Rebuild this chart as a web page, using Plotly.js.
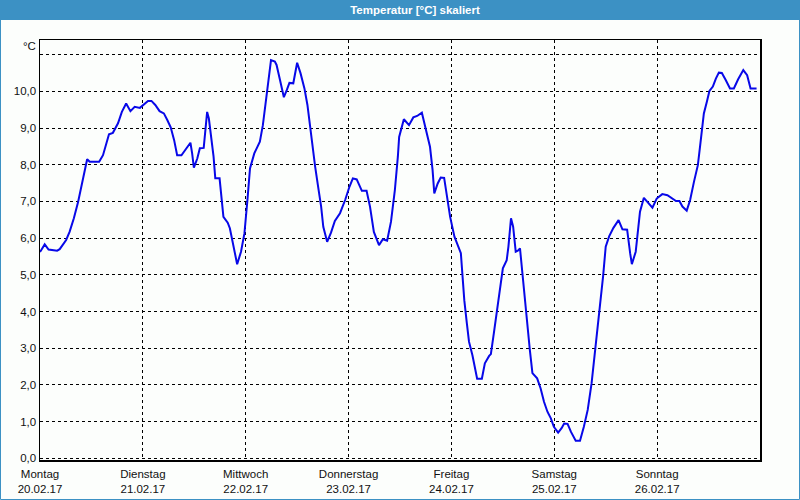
<!DOCTYPE html>
<html>
<head>
<meta charset="utf-8">
<script src="https://cdn.plot.ly/plotly-3.0.1.min.js"></script>
<style>
  html, body { margin: 0; padding: 0; background: #fcfefc; }
  #chart { width: 800px; height: 500px; }
</style>
</head>
<body>
<div id="chart"></div>
<script>
// Hours since Monday 20.02.17 00:00
const hours = [
  0, 1.1, 2.0, 4.0, 4.6, 6.1, 6.9, 7.9, 8.9, 9.8, 10.4, 11.0, 11.6, 13.8, 14.7, 15.5, 16.1, 17.0, 18.2, 19.1,
  20.1, 21.1, 22.1, 23.3, 24.4, 25.2, 26.0, 26.9, 27.9, 28.9, 29.7, 30.5, 31.3, 32.0, 33.0, 34.1, 35.1, 35.5, 35.9, 36.7,
  37.3, 38.2, 39.0, 39.4, 40.0, 40.5, 40.9, 41.9, 42.8, 43.8, 44.3, 45.1, 46.0, 46.9, 47.7, 48.4, 49.0, 50.0, 50.8, 51.3,
  52.0, 52.5, 53.1, 53.9, 54.8, 55.2, 56.0, 56.9, 57.6, 58.2, 59.1, 60.0, 60.8, 61.7, 62.4, 63.0, 63.6, 64.2, 64.9, 65.6,
  66.1, 67.0, 67.9, 68.8, 70.0, 71.2, 72.2, 73.0, 73.9, 75.1, 76.2, 77.0, 77.9, 79.1, 80.0, 81.0, 81.9, 82.8, 83.5, 83.8,
  84.9, 86.1, 87.1, 88.0, 89.1, 90.0, 91.0, 91.6, 92.0, 92.8, 93.5, 94.3, 94.9, 95.7, 96.7, 97.6, 98.2, 98.6, 99.0, 99.6,
  100.1, 100.9, 101.5, 102.0, 103.1, 103.8, 104.8, 105.2, 105.9, 106.6, 107.3, 108.0, 108.9, 109.3, 109.9, 110.4, 111.0, 111.5, 112.0, 112.6,
  113.2, 113.8, 114.3, 114.9, 116.0, 116.8, 117.6, 118.4, 119.2, 119.9, 120.9, 121.7, 122.3, 123.1, 123.9, 125.0, 126.0, 126.9, 127.8, 128.7,
  129.5, 130.3, 130.9, 131.4, 132.0, 132.8, 133.8, 135.0, 135.9, 137.0, 137.7, 138.1, 139.0, 139.4, 140.0, 140.9, 141.9, 142.9, 143.9, 145.2,
  146.4, 147.4, 148.4, 149.2, 149.9, 150.9, 151.7, 152.6, 153.5, 154.0, 154.4, 154.9, 155.6, 156.2, 157.0, 157.7, 158.4, 159.1, 160.0, 161.0,
  161.9, 162.9, 164.1, 165.0, 165.8, 167.2
];
const temps = [
  5.62, 5.83, 5.69, 5.66, 5.70, 5.95, 6.17, 6.54, 6.99, 7.49, 7.90, 8.15, 8.08, 8.08, 8.26, 8.58, 8.83, 8.87, 9.13, 9.44,
  9.67, 9.46, 9.58, 9.55, 9.67, 9.74, 9.74, 9.63, 9.46, 9.40, 9.22, 9.02, 8.67, 8.26, 8.26, 8.45, 8.60, 8.31, 7.92, 8.17,
  8.45, 8.46, 9.44, 9.26, 8.67, 8.22, 7.63, 7.63, 6.58, 6.42, 6.27, 5.77, 5.29, 5.63, 6.13, 7.04, 7.90, 8.31, 8.49, 8.63,
  9.08, 9.58, 10.13, 10.85, 10.81, 10.72, 10.31, 9.84, 10.04, 10.23, 10.22, 10.78, 10.49, 10.08, 9.63, 9.04, 8.49, 7.95, 7.40, 6.86,
  6.31, 5.90, 6.15, 6.47, 6.68, 7.04, 7.40, 7.63, 7.60, 7.29, 7.29, 6.86, 6.17, 5.81, 5.97, 5.93, 6.45, 7.31, 8.22, 8.76,
  9.24, 9.08, 9.29, 9.33, 9.42, 8.99, 8.49, 7.86, 7.22, 7.49, 7.65, 7.64, 7.13, 6.58, 6.04, 5.77, 5.59, 4.95, 4.31, 3.68,
  3.18, 2.81, 2.50, 2.17, 2.17, 2.59, 2.79, 2.84, 3.41, 4.04, 4.59, 5.18, 5.40, 5.77, 6.54, 6.31, 5.63, 5.66, 5.72, 4.95,
  4.31, 3.59, 2.95, 2.32, 2.18, 1.91, 1.54, 1.27, 1.09, 0.86, 0.70, 0.82, 0.95, 0.94, 0.72, 0.48, 0.48, 0.86, 1.32, 2.04,
  2.86, 3.68, 4.31, 4.97, 5.77, 6.05, 6.28, 6.49, 6.24, 6.23, 5.59, 5.29, 5.63, 6.04, 6.72, 7.10, 6.96, 6.83, 7.08, 7.20,
  7.17, 7.10, 7.01, 7.01, 6.86, 6.75, 7.04, 7.54, 7.99, 8.49, 8.99, 9.40, 9.72, 10.01, 10.13, 10.35, 10.51, 10.50, 10.31, 10.08,
  10.08, 10.33, 10.58, 10.44, 10.08, 10.08
];
const dayTicks = [0, 24, 48, 72, 96, 120, 144];
const dayLabels = [
  "Montag<br>20.02.17", "Dienstag<br>21.02.17", "Mittwoch<br>22.02.17", "Donnerstag<br>23.02.17",
  "Freitag<br>24.02.17", "Samstag<br>25.02.17", "Sonntag<br>26.02.17"
];
const yTicks = [0, 1, 2, 3, 4, 5, 6, 7, 8, 9, 10, 11];
const yLabels = ["0,0", "1,0", "2,0", "3,0", "4,0", "5,0", "6,0", "7,0", "8,0", "9,0", "10,0", ""];

const blue = "#3c91c4";
const W = 800, H = 500, L = 40, R = 40, T = 40, B = 40;
const pw = W - L - R, ph = H - T - B;
const px = v => (v - L) / pw;
const py = v => (H - B - v) / ph;

const trace = {
  x: hours, y: temps, type: "scatter", mode: "lines",
  line: { color: "#0808e8", width: 2 },
  hoverinfo: "skip"
};

const layout = {
  width: W, height: H,
  margin: { l: L, r: R, t: T, b: B, pad: 0 },
  paper_bgcolor: "#fcfefc",
  plot_bgcolor: "#fcfefc",
  showlegend: false,
  font: { family: "Liberation Sans, Arial, sans-serif", size: 11.5, color: "#111" },
  title: {
    text: "<b>Temperatur [°C] skaliert</b>",
    font: { family: "Liberation Sans, Arial, sans-serif", size: 11.5, color: "#ffffff" },
    x: 415 / W, xanchor: "center", xref: "container",
    y: 1 - 10 / H, yanchor: "middle", yref: "container"
  },
  xaxis: {
    range: [0, 168],
    tickmode: "array", tickvals: dayTicks, ticktext: dayLabels,
    showgrid: true, gridcolor: "#000", gridwidth: 1, griddash: "3px,3px",
    showline: true, linecolor: "#000", linewidth: 1.5, mirror: true,
    zeroline: false, ticks: "", ticklabelstandoff: 3, fixedrange: true
  },
  yaxis: {
    range: [-0.046, 11.40],
    tickmode: "array", tickvals: yTicks, ticktext: yLabels,
    showgrid: true, gridcolor: "#000", gridwidth: 1, griddash: "3px,3px",
    showline: true, linecolor: "#000", linewidth: 1.5, mirror: true,
    zeroline: false, ticks: "", fixedrange: true
  },
  shapes: [
    { type: "rect", xref: "paper", yref: "paper", layer: "below",
      x0: px(0), x1: px(800), y0: py(20), y1: py(0),
      fillcolor: blue, line: { width: 0 } },
    { type: "rect", xref: "paper", yref: "paper", layer: "below",
      x0: px(0.5), x1: px(799.5), y0: py(499.5), y1: py(0.5),
      fillcolor: "rgba(0,0,0,0)", line: { color: blue, width: 1 } }
  ],
  annotations: [
    { text: "°C", xref: "paper", yref: "paper", x: px(38), y: py(46),
      xanchor: "right", yanchor: "middle", showarrow: false,
      font: { family: "Liberation Sans, Arial, sans-serif", size: 11.5, color: "#111" } }
  ]
};

Plotly.newPlot("chart", [trace], layout, { displayModeBar: false, staticPlot: true });
</script>
</body>
</html>
